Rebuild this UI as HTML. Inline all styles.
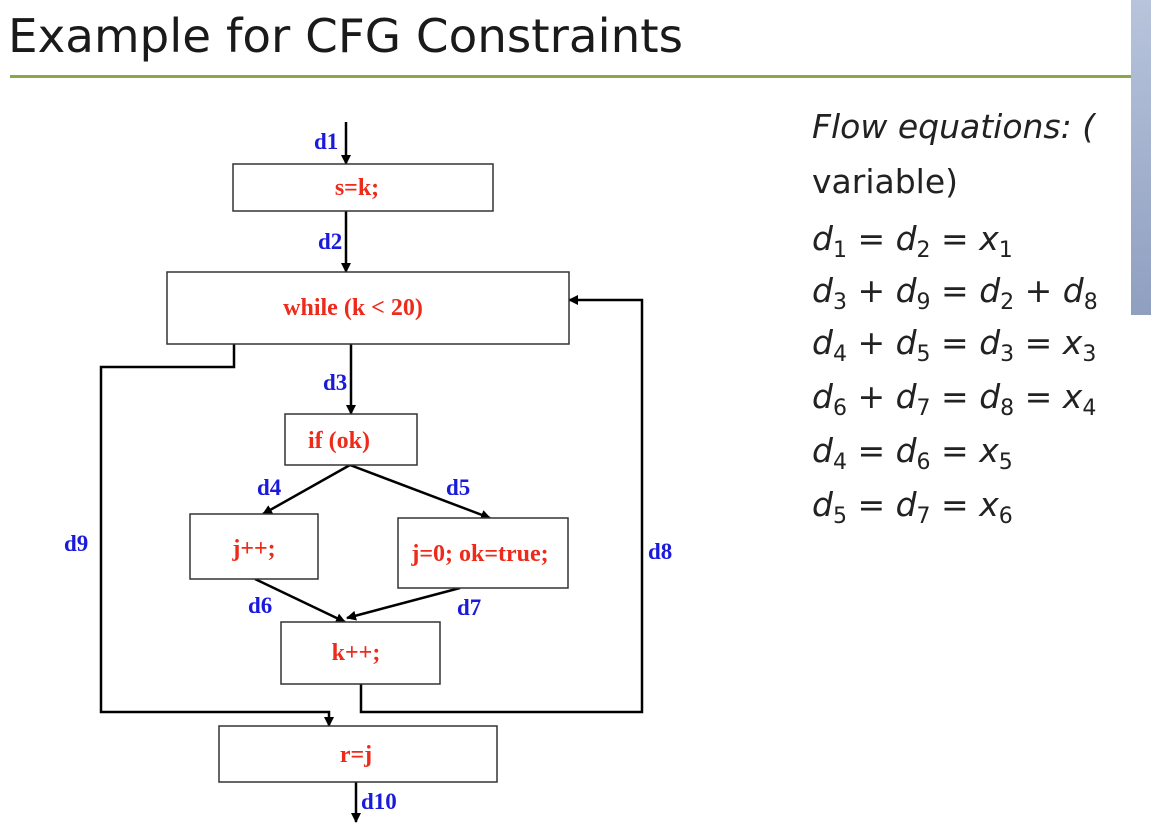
<!DOCTYPE html>
<html><head><meta charset="utf-8"><style>
html,body{margin:0;padding:0;background:#fff;width:1151px;height:832px;overflow:hidden}
svg{display:block}
.lbl{font-family:"Liberation Serif",serif;font-weight:bold;font-size:23px;fill:#1a1adc}
.code{font-family:"Liberation Serif",serif;font-weight:bold;font-size:24px;fill:#ee2a1a}
.eq{font-family:"DejaVu Sans","Liberation Sans",sans-serif;font-size:33px;fill:#222}
.v{font-style:italic}
</style></head><body>
<svg width="1151" height="832" viewBox="0 0 1151 832">
<defs><marker id="ah" viewBox="0 0 10 10" refX="9" refY="5" markerWidth="4" markerHeight="4" orient="auto"><path d="M0,0L10,5L0,10z" fill="#000"/></marker></defs>
<text x="8" y="52" font-family="DejaVu Sans,Liberation Sans,sans-serif" font-size="46" textLength="675" lengthAdjust="spacingAndGlyphs" fill="#1a1a1a">Example for CFG Constraints</text>
<rect x="10" y="75" width="1125" height="3" fill="#8aa84a"/>
<g stroke="#000" stroke-width="2.5" fill="none">
<line x1="346" y1="122" x2="346" y2="164" marker-end="url(#ah)"/>
<line x1="346" y1="211" x2="346" y2="272" marker-end="url(#ah)"/>
<line x1="351" y1="344" x2="351" y2="414" marker-end="url(#ah)"/>
<polyline points="234,344 234,367 101,367 101,712 329,712 329,726" marker-end="url(#ah)"/>
<polyline points="361,684 361,712 642,712 642,300 569,300" marker-end="url(#ah)"/>
<line x1="350" y1="465" x2="263" y2="514" marker-end="url(#ah)"/>
<line x1="350" y1="465" x2="490" y2="518" marker-end="url(#ah)"/>
<line x1="255" y1="579" x2="345" y2="622" marker-end="url(#ah)"/>
<line x1="460" y1="588" x2="347" y2="618" marker-end="url(#ah)"/>
<line x1="356" y1="782" x2="356" y2="822" marker-end="url(#ah)"/>
</g>
<g stroke="#333" stroke-width="1.5" fill="#fff">
<rect x="233" y="164" width="260" height="47"/>
<rect x="167" y="272" width="402" height="72"/>
<rect x="285" y="414" width="132" height="51"/>
<rect x="190" y="514" width="128" height="65"/>
<rect x="398" y="518" width="170" height="70"/>
<rect x="281" y="622" width="159" height="62"/>
<rect x="219" y="726" width="278" height="56"/>
</g>
<g class="code" text-anchor="middle">
<text x="357" y="195">s=k;</text>
<text x="353" y="315">while (k &lt; 20)</text>
<text x="339" y="448">if (ok)</text>
<text x="254" y="556">j++;</text>
<text x="480" y="561">j=0; ok=true;</text>
<text x="356" y="660">k++;</text>
<text x="356" y="762">r=j</text>
</g>
<g class="lbl">
<text x="314" y="149">d1</text><text x="318" y="249">d2</text><text x="323" y="390">d3</text>
<text x="257" y="495">d4</text><text x="446" y="495">d5</text><text x="248" y="613">d6</text>
<text x="457" y="615">d7</text><text x="648" y="559">d8</text><text x="64" y="551">d9</text>
<text x="361" y="809">d10</text>
</g>
<g class="eq">
<text x="812" y="138" font-style="italic">Flow equations: (</text>
<text x="812" y="193">variable)</text>
<text x="812" y="250"><tspan class="v">d</tspan><tspan font-size="22" dy="7">1</tspan><tspan dy="-7"> = </tspan><tspan class="v">d</tspan><tspan font-size="22" dy="7">2</tspan><tspan dy="-7"> = </tspan><tspan class="v">x</tspan><tspan font-size="22" dy="7">1</tspan></text>
<text x="812" y="302"><tspan class="v">d</tspan><tspan font-size="22" dy="7">3</tspan><tspan dy="-7"> + </tspan><tspan class="v">d</tspan><tspan font-size="22" dy="7">9</tspan><tspan dy="-7"> = </tspan><tspan class="v">d</tspan><tspan font-size="22" dy="7">2</tspan><tspan dy="-7"> + </tspan><tspan class="v">d</tspan><tspan font-size="22" dy="7">8</tspan></text>
<text x="812" y="354"><tspan class="v">d</tspan><tspan font-size="22" dy="7">4</tspan><tspan dy="-7"> + </tspan><tspan class="v">d</tspan><tspan font-size="22" dy="7">5</tspan><tspan dy="-7"> = </tspan><tspan class="v">d</tspan><tspan font-size="22" dy="7">3</tspan><tspan dy="-7"> = </tspan><tspan class="v">x</tspan><tspan font-size="22" dy="7">3</tspan></text>
<text x="812" y="408"><tspan class="v">d</tspan><tspan font-size="22" dy="7">6</tspan><tspan dy="-7"> + </tspan><tspan class="v">d</tspan><tspan font-size="22" dy="7">7</tspan><tspan dy="-7"> = </tspan><tspan class="v">d</tspan><tspan font-size="22" dy="7">8</tspan><tspan dy="-7"> = </tspan><tspan class="v">x</tspan><tspan font-size="22" dy="7">4</tspan></text>
<text x="812" y="462"><tspan class="v">d</tspan><tspan font-size="22" dy="7">4</tspan><tspan dy="-7"> = </tspan><tspan class="v">d</tspan><tspan font-size="22" dy="7">6</tspan><tspan dy="-7"> = </tspan><tspan class="v">x</tspan><tspan font-size="22" dy="7">5</tspan></text>
<text x="812" y="516"><tspan class="v">d</tspan><tspan font-size="22" dy="7">5</tspan><tspan dy="-7"> = </tspan><tspan class="v">d</tspan><tspan font-size="22" dy="7">7</tspan><tspan dy="-7"> = </tspan><tspan class="v">x</tspan><tspan font-size="22" dy="7">6</tspan></text>
</g>
<defs><linearGradient id="vg" x1="0" y1="0" x2="0" y2="1"><stop offset="0" stop-color="#b8c4dc"/><stop offset="1" stop-color="#8f9fc0"/></linearGradient></defs>
<rect x="1131" y="0" width="20" height="315" fill="url(#vg)"/>
<rect x="1131" y="315" width="20" height="517" fill="#fff"/>
</svg>
</body></html>
